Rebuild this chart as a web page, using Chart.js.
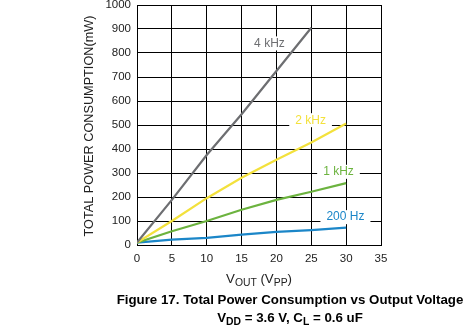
<!DOCTYPE html>
<html>
<head>
<meta charset="utf-8">
<script src="https://cdn.jsdelivr.net/npm/chart.js@4"></script>
<style>
  html, body { margin: 0; padding: 0; background: #fff; }
  #wrap { width: 468px; height: 325px; }
</style>
</head>
<body>
<div id="wrap"><canvas id="chart" width="468" height="325"></canvas></div>
<script>
// values
var voutPP = [0, 5, 10, 15, 20, 25, 30];
var power4k = [10, 188, 375, 545, 725, 905];
var power2k = [10, 100, 195, 280, 355, 427, 506];
var power1k = [10, 57, 100, 147, 188, 222, 258];
var power200 = [10, 22, 30, 43, 55, 62, 72];
var seriesNames = ['4 kHz', '2 kHz', '1 kHz', '200 Hz'];
var seriesColors = ['#6d6e71', '#f3e13c', '#6cb33f', '#1b86c8'];
// where each curve label sits (data coords)
var labelAt = [[19, 840], [24.9, 520], [28.9, 305], [29.9, 116]];

var FONT = '"Liberation Sans", Arial, sans-serif';

function pts(ys) {
  var out = [];
  for (var i = 0; i < ys.length; i++) {
    out.push({ x: voutPP[i], y: ys[i] });
  }
  return out;
}

// draws text with a subscript part: parts = [[text, isSub], ...]
function drawSubText(ctx, parts, cx, y, size, bold) {
  var w = 0;
  var weight = bold ? 'bold ' : '';
  parts.forEach(function(p) {
    ctx.font = weight + (p[1] ? size * 0.78 : size) + 'px ' + FONT;
    w += ctx.measureText(p[0]).width;
  });
  var x = cx - w / 2;
  ctx.textAlign = 'left';
  ctx.textBaseline = 'alphabetic';
  parts.forEach(function(p) {
    ctx.font = weight + (p[1] ? size * 0.78 : size) + 'px ' + FONT;
    ctx.fillText(p[0], x, p[1] ? y + size * 0.22 : y);
    x += ctx.measureText(p[0]).width;
  });
}

var textPlugin = {
  id: 'textPlugin',
  afterDraw: function(chart) {
    var ctx = chart.ctx;
    var xs = chart.scales.x;
    var ys = chart.scales.y;
    var area = chart.chartArea;
    ctx.save();

    // curve labels with white boxes
    ctx.font = '12px ' + FONT;
    ctx.textAlign = 'center';
    ctx.textBaseline = 'middle';
    for (var i = 0; i < seriesNames.length; i++) {
      var px = xs.getPixelForValue(labelAt[i][0]);
      var py = ys.getPixelForValue(labelAt[i][1]);
      var tw = ctx.measureText(seriesNames[i]).width;
      ctx.fillStyle = '#fff';
      ctx.fillRect(px - tw / 2 - 6, py - 7, tw + 12, 14);
      ctx.fillStyle = seriesColors[i];
      ctx.fillText(seriesNames[i], px, py);
    }

    // y title
    ctx.fillStyle = '#222';
    ctx.font = '12.7px ' + FONT;
    ctx.translate(89, 126);
    ctx.rotate(-Math.PI / 2);
    ctx.textAlign = 'center';
    ctx.textBaseline = 'middle';
    ctx.fillText('TOTAL POWER CONSUMPTION(mW)', 0, 0);
    ctx.setTransform(1, 0, 0, 1, 0, 0);

    // x title
    ctx.fillStyle = '#222';
    drawSubText(ctx, [['V', false], ['OUT', true], [' (V', false], ['PP', true], [')', false]],
      (area.left + area.right) / 2, 283, 13.3, false);

    // caption
    ctx.fillStyle = '#000';
    ctx.font = 'bold 13.3px ' + FONT;
    ctx.textAlign = 'center';
    ctx.textBaseline = 'alphabetic';
    ctx.fillText('Figure 17. Total Power Consumption vs Output Voltage', 290, 304);
    drawSubText(ctx, [['V', false], ['DD', true], [' = 3.6 V, C', false], ['L', true], [' = 0.6 uF', false]],
      290, 322, 13.3, true);
    ctx.restore();
  }
};

document.addEventListener('DOMContentLoaded', function() {
  var allSeries = [power4k, power2k, power1k, power200];
  var datasets = [];
  for (var i = 0; i < allSeries.length; i++) {
    datasets.push({
      label: seriesNames[i],
      data: pts(allSeries[i]),
      borderColor: seriesColors[i],
      borderWidth: 2.2,
      pointRadius: 0,
      fill: false,
      tension: 0
    });
  }

  new Chart(document.getElementById('chart'), {
    type: 'line',
    data: { datasets: datasets },
    options: {
      responsive: false,
      animation: false,
      events: [],
      layout: { padding: { left: 0, right: 87, top: 5, bottom: 0 } },
      plugins: {
        legend: { display: false },
        tooltip: { enabled: false }
      },
      scales: {
        x: {
          type: 'linear',
          min: 0,
          max: 35,
          ticks: {
            stepSize: 5,
            color: '#222',
            padding: 7,
            font: { family: FONT, size: 11.5 },
            maxRotation: 0
          },
          grid: { color: '#000', lineWidth: 1, drawTicks: false },
          border: { color: '#000', width: 1 },
          afterFit: function(scale) { scale.height = 80; }
        },
        y: {
          min: 0,
          max: 1000,
          ticks: {
            stepSize: 100,
            color: '#222',
            padding: 6,
            font: { family: FONT, size: 11.5 },
            callback: function(v) { return String(v); }
          },
          grid: { color: '#000', lineWidth: 1, drawTicks: false },
          border: { color: '#000', width: 1 },
          afterFit: function(scale) {
            scale.width = 137;
            scale.paddingTop = 0;
            scale.paddingBottom = 0;
          }
        }
      }
    },
    plugins: [textPlugin]
  });
});
</script>
</body>
</html>
